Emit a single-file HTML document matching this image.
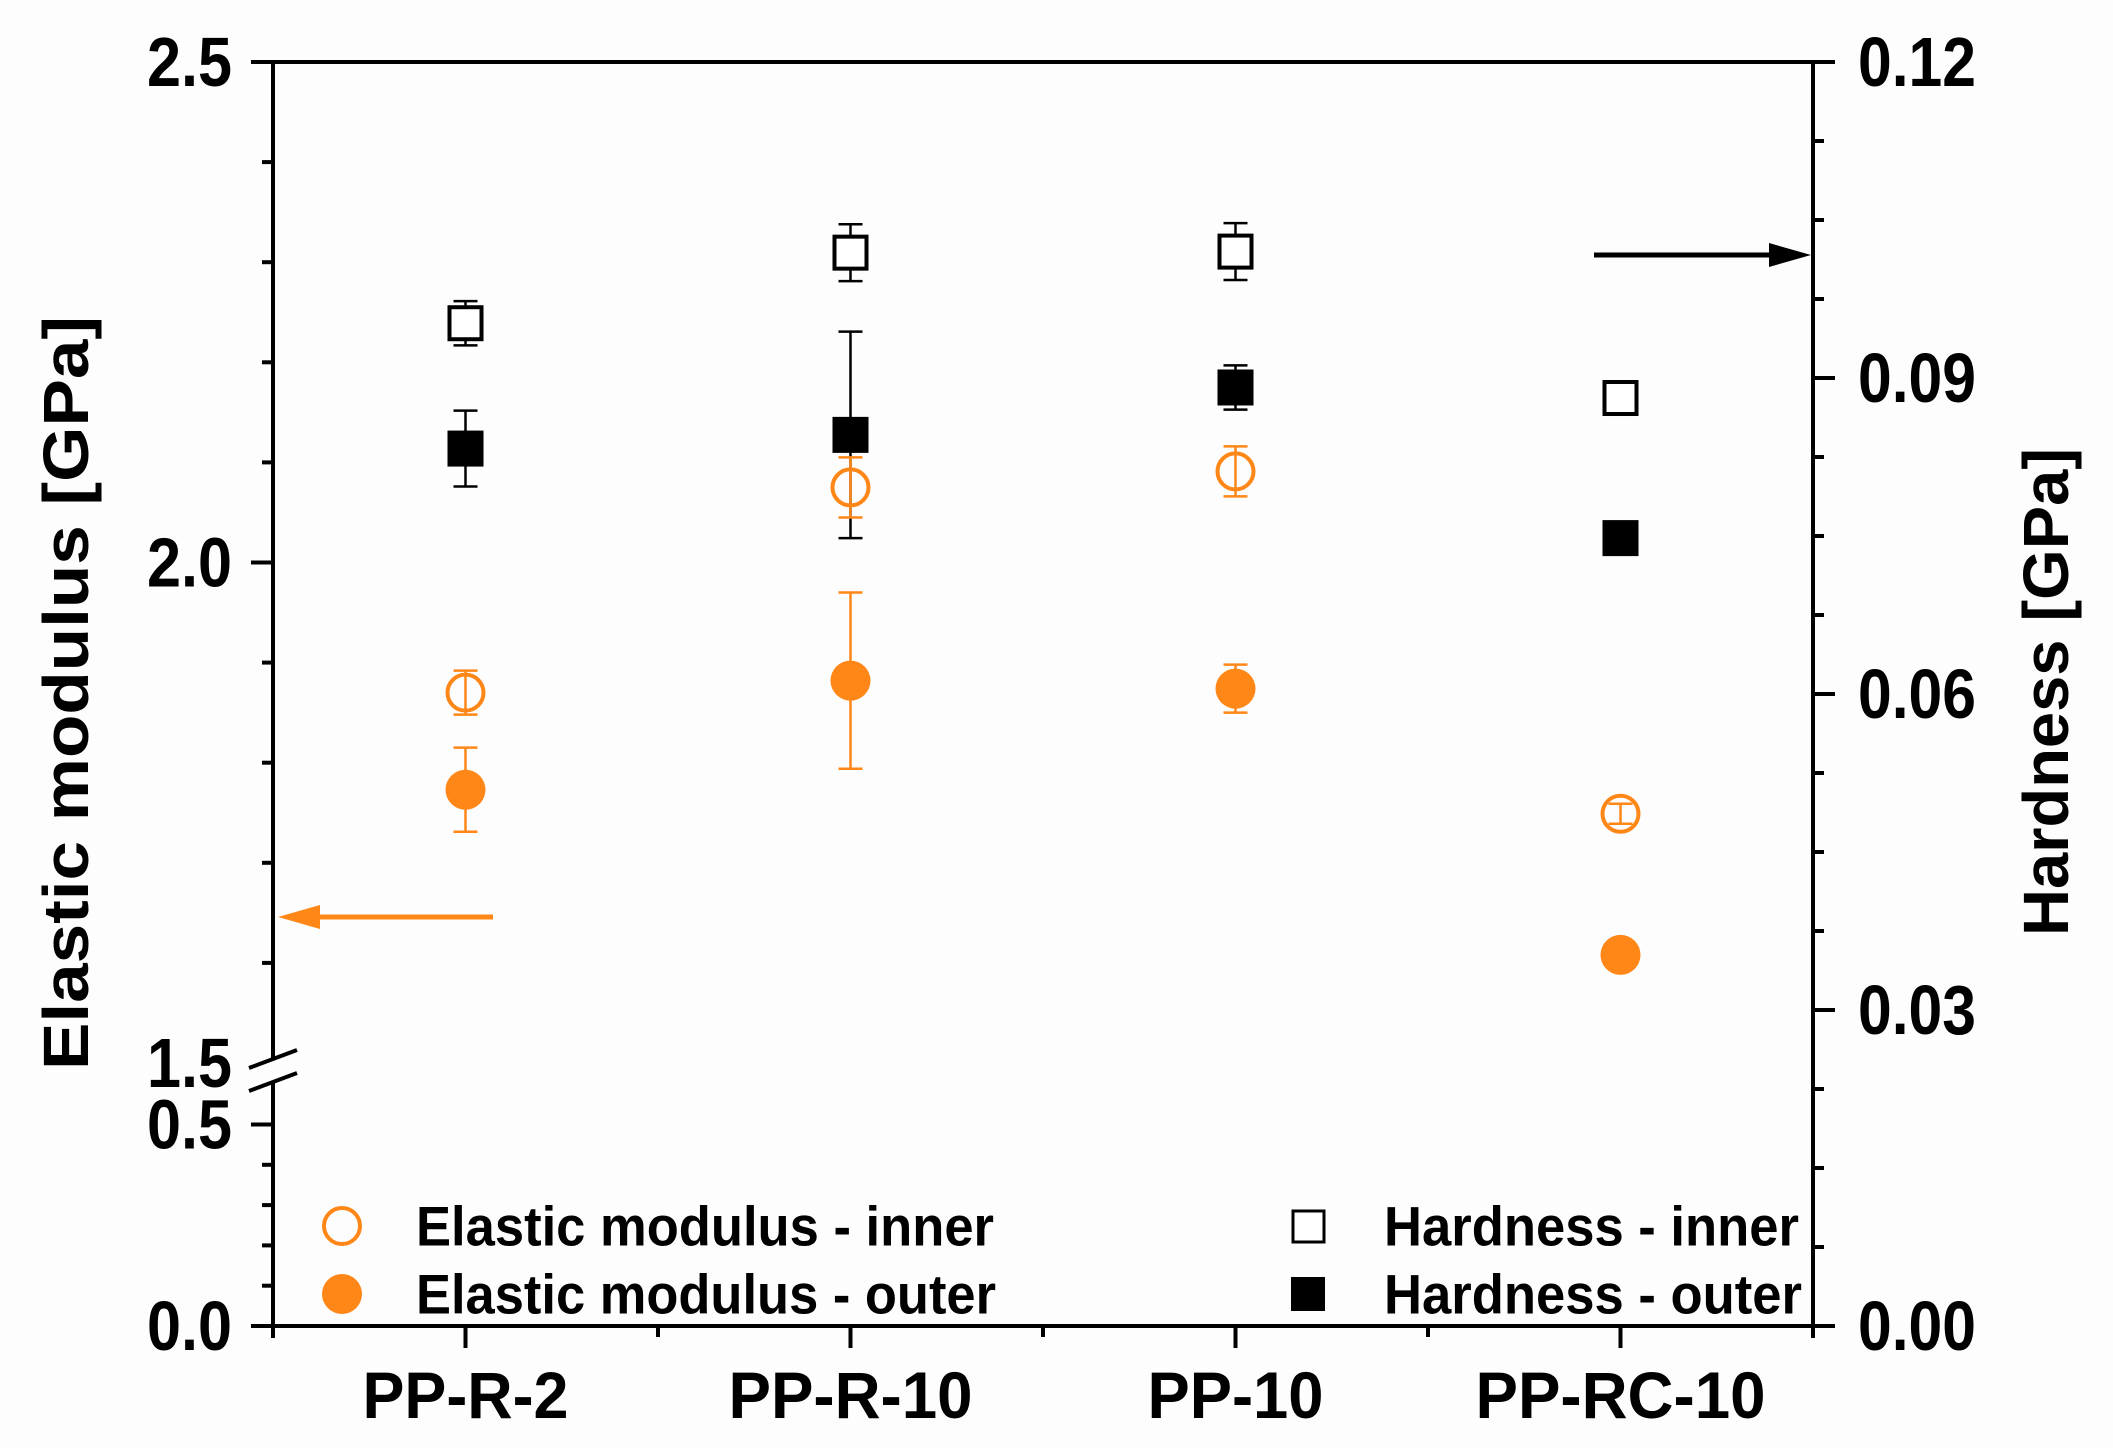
<!DOCTYPE html>
<html><head><meta charset="utf-8"><style>
html,body{margin:0;padding:0;background:#fdfdfd}
svg{display:block;font-family:"Liberation Sans",sans-serif;font-weight:bold}
</style></head><body>
<svg id="chart" width="2113" height="1448" viewBox="0 0 2113 1448">
<g id="axes"></g>
<g id="marks"></g>
<g id="legend"></g>
</svg>
<script>
const categories = ["PP-R-2","PP-R-10","PP-10","PP-RC-10"];
const emInner = [1.870, 2.075, 2.091, 1.749];
const emInnerErr = [0.022, 0.030, 0.025, 0.010];
const emOuter = [1.773, 1.882, 1.874, 1.608];
const emOuterErr = [0.042, 0.088, 0.024, 0.005];
const hInner = [0.0952, 0.1019, 0.1020, 0.0881];
const hInnerErr = [0.0021, 0.0027, 0.0027, 0.0010];
const hOuter = [0.0833, 0.0846, 0.0891, 0.0748];
const hOuterErr = [0.0036, 0.0098, 0.0021, 0.0008];
const leftUpperTicks = ["2.5","2.0","1.5"];
const leftLowerTicks = ["0.5","0.0"];
const rightTicks = ["0.12","0.09","0.06","0.03","0.00"];

const NS="http://www.w3.org/2000/svg";
const OR="#ff8717";
const X0=273, X1=1813, YT=62, YB=1326;
const catW={"PP-R-2":206,"PP-R-10":244,"PP-10":176,"PP-RC-10":290};
function xPos(i){return X0+(2*i+1)*(X1-X0)/8;}
function yLeft(v){ if(v>=1.5) return 62+(2.5-v)*1001; return 1326-v*403; }
function yRight(v){ return YB-v*((YB-YT)/0.12); }
function mk(tag,attrs,parent,text){const e=document.createElementNS(NS,tag);for(const k in attrs)e.setAttribute(k,attrs[k]);if(text!==undefined)e.textContent=text;parent.appendChild(e);return e;}
const axes=document.getElementById('axes'), marks=document.getElementById('marks'), legend=document.getElementById('legend');

let e;
e=mk('line',{x1:X0,y1:YT,x2:X1,y2:YT,stroke:'#000','stroke-width':4},axes);

e=mk('line',{x1:X0-2,y1:YB,x2:X1+2,y2:YB,stroke:'#000','stroke-width':4},axes);

e=mk('line',{x1:X0,y1:YT-2,x2:X0,y2:1058,stroke:'#000','stroke-width':4},axes);

e=mk('line',{x1:X0,y1:1082,x2:X0,y2:YB+12,stroke:'#000','stroke-width':4},axes);

e=mk('line',{x1:X1,y1:YT-2,x2:X1,y2:YB+12,stroke:'#000','stroke-width':4},axes);

mk('line',{x1:249,y1:1068,x2:297,y2:1050,stroke:'#000','stroke-width':4},axes);
mk('line',{x1:249,y1:1091,x2:297,y2:1073,stroke:'#000','stroke-width':4},axes);

for(let k=0;k<10;k++){const v=2.5-k*0.1;const y=yLeft(v);const major=(k%5===0);
 mk('line',{x1:major?X0-22:X0-11,y1:y,x2:X0,y2:y,stroke:'#000','stroke-width':4},axes);}
leftUpperTicks.forEach(t=>{const y=yLeft(parseFloat(t));
 e=mk('text',{x:232,y:y,'text-anchor':'end','dominant-baseline':'central','font-size':70,textLength:85,lengthAdjust:'spacingAndGlyphs'},axes,t);
 });
for(let k=0;k<=5;k++){const v=k*0.1;const y=yLeft(v);const major=(k===0||k===5);
 mk('line',{x1:major?X0-22:X0-11,y1:y,x2:X0,y2:y,stroke:'#000','stroke-width':4},axes);}
leftLowerTicks.forEach(t=>{const y=yLeft(parseFloat(t));
 e=mk('text',{x:232,y:y,'text-anchor':'end','dominant-baseline':'central','font-size':70,textLength:85,lengthAdjust:'spacingAndGlyphs'},axes,t);
 });
for(let k=0;k<=16;k++){const v=k*0.0075;const y=yRight(v);const major=(k%4===0);
 mk('line',{x1:X1,y1:y,x2:major?X1+22:X1+11,y2:y,stroke:'#000','stroke-width':4},axes);}
rightTicks.forEach(t=>{const y=yRight(parseFloat(t));
 e=mk('text',{x:1858,y:y,'text-anchor':'start','dominant-baseline':'central','font-size':70,textLength:118,lengthAdjust:'spacingAndGlyphs'},axes,t);
 });
for(let k=0;k<=8;k++){const x=X0+k*(X1-X0)/8;const major=(k%2===1);
 mk('line',{x1:x,y1:YB,x2:x,y2:major?YB+22:YB+11,stroke:'#000','stroke-width':4},axes);}
categories.forEach((c,i)=>{
 e=mk('text',{x:xPos(i),y:1418,'text-anchor':'middle','font-size':66,textLength:catW[c],lengthAdjust:'spacingAndGlyphs'},axes,c);
 });
e=mk('text',{x:0,y:0,'text-anchor':'middle','dominant-baseline':'central','font-size':64,textLength:754,lengthAdjust:'spacingAndGlyphs',transform:'translate(66,693) rotate(-90)'},axes,'Elastic modulus [GPa]');

e=mk('text',{x:0,y:0,'text-anchor':'middle','dominant-baseline':'central','font-size':64,textLength:488,lengthAdjust:'spacingAndGlyphs',transform:'translate(2046,692) rotate(-90)'},axes,'Hardness [GPa]');

mk('line',{x1:493,y1:917,x2:298,y2:917,stroke:OR,'stroke-width':5},axes);
e=mk('polygon',{points:'278,917 320,905 320,929',fill:OR},axes);

mk('line',{x1:1594,y1:255,x2:X1-20,y2:255,stroke:'#000','stroke-width':5},axes);
e=mk('polygon',{points:(X1-2)+',255 '+(X1-44)+',243 '+(X1-44)+',267',fill:'#000'},axes);


function errbar(x,yl,yh,color,w){
 mk('line',{x1:x,y1:yl,x2:x,y2:yh,stroke:color,'stroke-width':w},marks);
 mk('line',{x1:x-12,y1:yl,x2:x+12,y2:yl,stroke:color,'stroke-width':w},marks);
 mk('line',{x1:x-12,y1:yh,x2:x+12,y2:yh,stroke:color,'stroke-width':w},marks);
}
categories.forEach((c,i)=>{const x=xPos(i);
 errbar(x,yRight(hInner[i]+hInnerErr[i]),yRight(hInner[i]-hInnerErr[i]),'#000',2.5);
 e=mk('rect',{x:x-16,y:yRight(hInner[i])-16,width:32,height:32,fill:'#fff',stroke:'#000','stroke-width':4},marks);
 
 errbar(x,yRight(hOuter[i]+hOuterErr[i]),yRight(hOuter[i]-hOuterErr[i]),'#000',2.5);
 e=mk('rect',{x:x-18,y:yRight(hOuter[i])-18,width:36,height:36,fill:'#000'},marks);
 
 errbar(x,yLeft(emInner[i]+emInnerErr[i]),yLeft(emInner[i]-emInnerErr[i]),OR,2.5);
 e=mk('circle',{cx:x,cy:yLeft(emInner[i]),r:18,fill:'none',stroke:OR,'stroke-width':4},marks);
 
 errbar(x,yLeft(emOuter[i]+emOuterErr[i]),yLeft(emOuter[i]-emOuterErr[i]),OR,2.5);
 e=mk('circle',{cx:x,cy:yLeft(emOuter[i]),r:20,fill:OR},marks);
 
});
e=mk('circle',{cx:342,cy:1226,r:18,fill:'none',stroke:OR,'stroke-width':4},legend);

e=mk('circle',{cx:342,cy:1294,r:20,fill:OR},legend);

e=mk('rect',{x:1293,y:1211,width:31,height:31,fill:'#fff',stroke:'#000','stroke-width':3},legend);

e=mk('rect',{x:1291,y:1277,width:34,height:34,fill:'#000'},legend);

[["Elastic modulus - inner",416,1226,578],["Elastic modulus - outer",416,1294,580],["Hardness - inner",1384,1226,415],["Hardness - outer",1384,1294,418]].forEach(d=>{
 e=mk('text',{x:d[1],y:d[2],'dominant-baseline':'central','font-size':56,textLength:d[3],lengthAdjust:'spacingAndGlyphs'},legend,d[0]);
 
});
</script>
</body></html>
